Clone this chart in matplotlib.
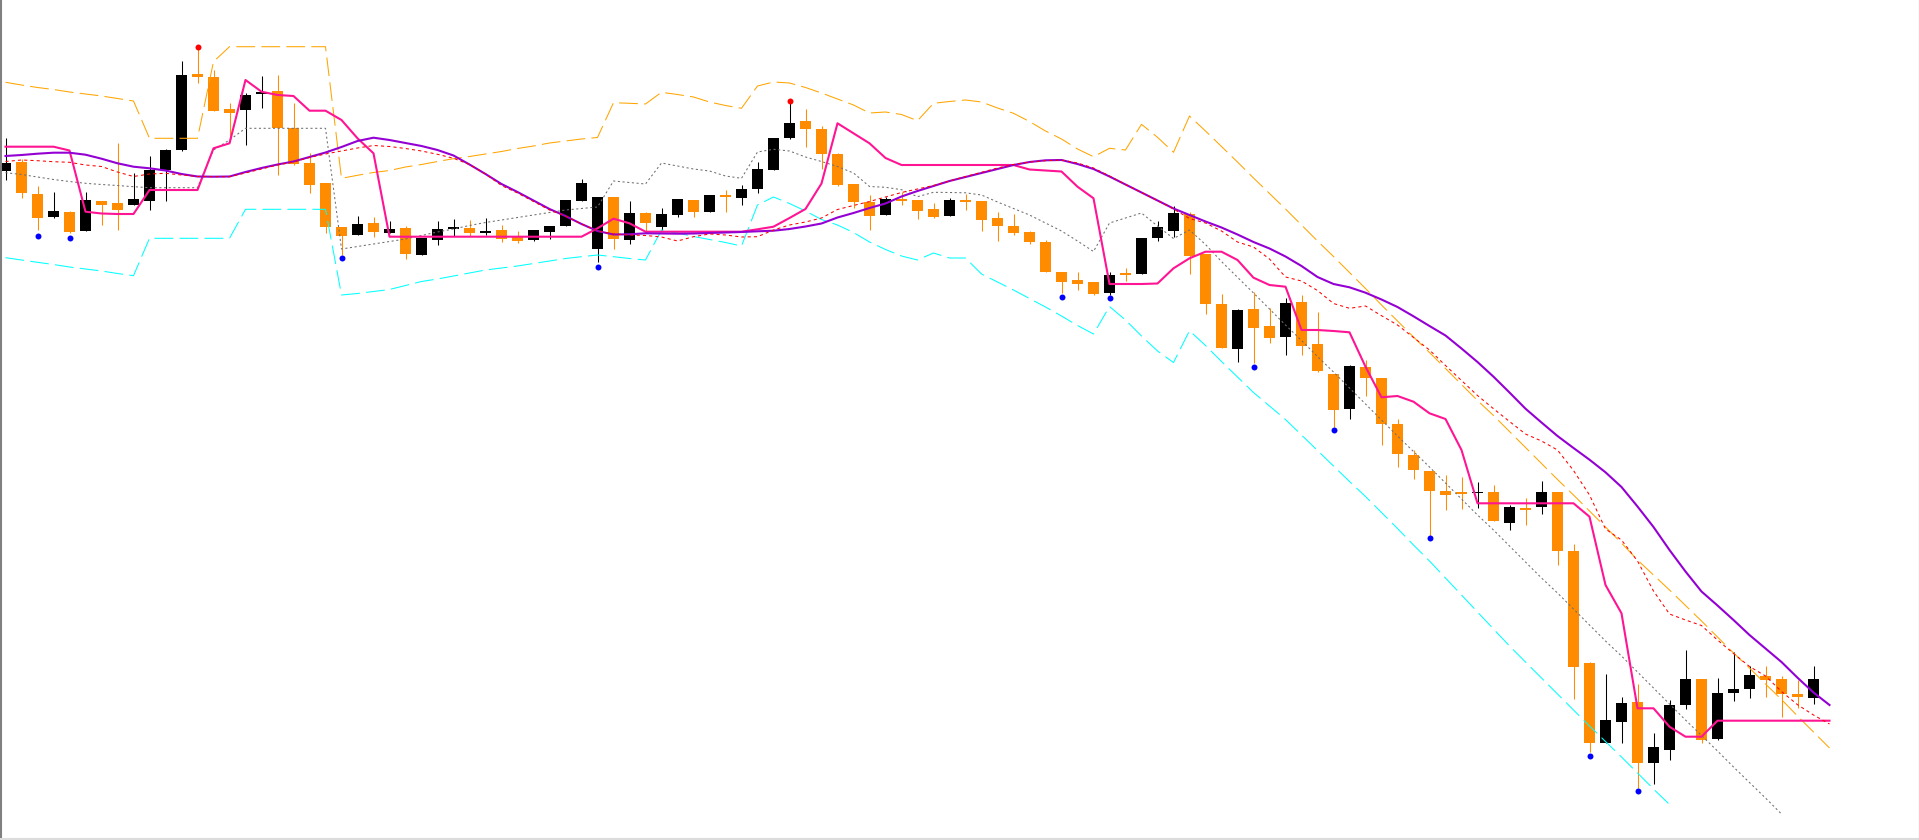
import matplotlib.pyplot as plt
from matplotlib.lines import Line2D

# price chart, bar by bar (no price axis is shown in the original)
opens = [829.3, 838, 806, 783.3, 788, 769.3, 799, 797, 795, 799,
         830, 850, 925.7, 923, 891, 890, 905.7, 909, 871.7, 836.7,
         817, 773, 765, 777.3, 767.3, 772, 745.3, 760.3, 771, 772,
         767, 770, 763.3, 760.3, 768, 774.3, 799.3, 751.3, 803, 760.3,
         787, 773.3, 785.3, 800, 788.3, 805, 802.3, 811.3, 830.3, 862,
         879, 871, 846.3, 816, 798, 785, 800.7, 800, 791, 784.3,
         800, 799, 782, 774.3, 768, 758, 728, 720, 718, 707.3,
         727.3, 726.3, 762.3, 769.3, 786, 746, 696, 651.3, 691, 674,
         663.3, 698, 656, 626, 591.3, 633, 622, 576, 545, 529,
         508.7, 507.7, 506.7, 508, 477.3, 492.3, 493.3, 508, 449, 337,
         257.3, 278.3, 298, 237.3, 250.3, 295.3, 321, 261.3, 307.3, 311.3,
         324, 321, 306, 302.3]
highs = [861.7, 840.7, 814, 808, 789, 808, 799, 857.3, 826.7, 844,
         851, 939, 951, 930, 896.7, 906.7, 924, 925, 896.7, 846.7,
         817, 773.3, 784, 783.3, 779, 774.3, 762.3, 779, 781, 780,
         782, 775.3, 769, 770, 774, 800, 821, 803, 803, 799,
         788, 792, 801, 800, 805, 810, 815, 838, 862, 896.7,
         891, 874, 847.3, 816, 805, 803, 808.3, 800, 797, 802,
         806, 799, 788, 786, 769.3, 760, 728, 728, 718, 728,
         731.7, 762, 779, 794, 788, 746, 706, 691, 708, 692,
         702, 705, 688, 626, 635.3, 640, 622, 581.3, 550.3, 529,
         525.3, 523.3, 518.3, 515.3, 495.3, 502.3, 519.3, 508, 456, 338,
         326, 303, 316, 267, 300, 350, 321, 322, 348, 334,
         334, 324, 320, 334]
lows = [820, 801.7, 770, 782.3, 767, 769.3, 775, 770, 795, 790,
        799, 849.3, 917.3, 889.3, 858.3, 855, 892.3, 825, 835, 806.7,
        767.3, 745, 765, 763.3, 767, 741, 745.3, 755.3, 764.3, 764.3,
        765, 758.3, 757, 759, 761, 774.3, 799.3, 738.3, 751.3, 756.3,
        767.3, 770, 783.3, 783.3, 788.3, 788.3, 795.3, 807.3, 830.3, 860.7,
        853.3, 831.3, 814, 791.7, 770.3, 785, 795.3, 781.3, 782.3, 784.3,
        790.3, 769.3, 759.3, 765.3, 756.3, 728.3, 706.7, 710, 705.3, 705,
        719.3, 726.3, 759.3, 763.3, 726.3, 686.3, 652.3, 638.3, 636.7, 657.3,
        645.3, 645.3, 628.3, 573.3, 581.3, 604.3, 555.3, 533.3, 521.3, 463.3,
        490.3, 491.3, 492.3, 479.3, 470.3, 475.3, 486.3, 435, 301.3, 248.3,
        257.3, 257.3, 211.7, 216.3, 240.3, 291.3, 257.3, 260.3, 299.3, 302.3,
        303.3, 283.3, 292.3, 296.3]
closes = [837.3, 807.3, 782.3, 789, 768.3, 800, 795, 790, 801, 830,
          850, 925, 923.3, 889.3, 887.3, 905, 908.3, 872.3, 835.7, 815,
          773.3, 764.3, 776, 768.3, 771, 746.3, 762.3, 771, 773, 767,
          769, 761.3, 759, 770, 774, 800, 817, 803, 761.3, 787,
          777.3, 786, 801, 788.3, 805, 803.3, 811, 831, 862, 877,
          871.3, 846.3, 815, 798.3, 784.3, 801, 799.3, 789.3, 783.3, 800,
          797.7, 780.3, 774.3, 767.3, 758.3, 728.3, 718.3, 716.3, 706.3, 725,
          725.3, 762, 773, 787.3, 744.3, 696.3, 652.3, 690, 672.3, 662.3,
          697, 654.3, 629.3, 590.3, 634.3, 622.3, 576.3, 546.3, 530.3, 509.3,
          504.7, 505.7, 507.7, 479.3, 492.7, 490.3, 508.3, 449.3, 333.3, 257.3,
          280, 297, 237.3, 253, 295, 321, 260.3, 307, 311, 325,
          320.3, 306.3, 303.3, 321]

# indicators
slow_ma = [844, 845, 846.3, 847.3, 847.3, 845.3, 841.3, 836.7, 833.3, 831.7,
           829.5, 826, 823.5, 823.3, 823.5, 828, 832, 835.5, 838.5, 843,
           847.5, 853, 859, 862.3, 860, 857, 854, 850, 844.5, 835.5,
           826, 816, 808, 799.5, 791, 784, 776, 769, 765.5, 765.7,
           766.7, 766.5, 766.3, 766.5, 767, 767.5, 768, 768.7, 769.3, 771,
           773.5, 776.5, 782.5, 787, 792, 796.5, 803.5, 809, 814, 819,
           823, 827, 831, 835, 838, 839.7, 840, 836, 831, 823.5,
           815.5, 807.5, 799.5, 791.5, 785, 778.5, 772.5, 765.5, 758, 751.5,
           743.5, 734, 723, 716, 712.7, 707.3, 700.5, 693, 683.7, 674,
           664.5, 651.5, 638, 623.3, 607.5, 591.3, 577.5, 564, 552, 540.3,
           527.7, 513, 493.5, 473, 450, 428.5, 408.5, 394.5, 380, 365,
           351.5, 338, 322.3, 307.5, 295]
fast_ma = [838.5, 840, 839.3, 838.3, 837.7, 835, 833.5, 828, 823.5, 826,
           826.7, 825, 823.5, 823.3, 823.3, 827, 831, 835, 838, 842.5,
           846, 849, 852, 854.5, 853.5, 851.5, 849, 845.7, 841.7, 835.5,
           826, 814.5, 807, 798.5, 790, 784, 776, 769, 766, 765,
           764.5, 763, 759, 763.3, 766, 765, 763, 763.3, 770, 775,
           778, 782, 790.5, 794.5, 798.5, 803, 807.5, 811, 814.5, 819,
           823.5, 827.7, 832, 835.5, 838, 839.3, 840, 837, 832, 824,
           815.5, 807.5, 799.5, 791, 781.5, 777, 769, 758, 753, 741,
           723, 719, 709.5, 696.5, 691.7, 694, 684.3, 675, 662.5, 650,
           634.5, 619.5, 604.5, 591.3, 578.5, 566, 559, 550, 529.5, 505,
           471, 460, 439, 409, 386, 380, 374.5, 360, 346.5, 333.5,
           324, 308.5, 295.3, 285, 276]
trail = [853.3, 853.3, 853.3, 853.3, 849.5, 788.3, 786.5, 786, 786, 810,
         810, 810, 810, 851.7, 856.7, 920, 908.3, 905, 904, 889.3,
         889.3, 880, 861.7, 846.7, 763.3, 763.3, 763.3, 763.3, 763.3, 763.3,
         763.3, 763.3, 763.3, 763.3, 763.3, 763.3, 763.3, 771.7, 781.3, 776.7,
         768.3, 768.3, 768.3, 768.3, 768.3, 768.3, 768.3, 770.7, 773.3, 782,
         791, 816.5, 876.7, 866.7, 856.7, 842, 835, 835, 835, 835,
         835, 835, 835, 835, 830.5, 829.5, 828.5, 813.3, 801.7, 716,
         716, 716, 716.5, 731.7, 741.7, 748.3, 748.3, 740, 722.3, 715,
         713.3, 670, 670, 669, 667.7, 633.3, 602.7, 604, 598.3, 586.7,
         581, 550, 496.7, 496.7, 496.7, 496.7, 496.7, 496.7, 496.7, 483.3,
         415, 386.7, 291.7, 291.7, 273.3, 263.3, 263.3, 279.3, 279.3, 279.3,
         279.3, 279.3, 279.3, 279.3, 279.3]
band_up = [917.7, 915, 912.5, 910.5, 908, 906, 904, 901.5, 899, 861.7,
           861.7, 861.7, 861.7, 938.3, 953.3, 953.3, 953.3, 953.3, 953.3, 953.3,
           953.3, 821.7, 824.7, 827.5, 829.5, 833, 835.5, 838.5, 841.3, 843.5,
           846, 848.5, 851.5, 854, 857, 859, 861, 862.5, 897.3, 896.7,
           896, 907.7, 905.5, 903, 898, 894.5, 891.7, 914, 918, 917,
           912.5, 907, 901, 895, 887, 888, 885.5, 879.3, 896.7, 898.5,
           900, 898, 892, 886.7, 878.5, 869, 861, 851, 843.3, 851.7,
           850, 875.7, 862.7, 847.7, 884, 869, 853.5, 838, 822, 806.5,
           791, 775, 759, 743.5, 727.5, 711.5, 695, 679, 663, 647.5,
           631.5, 615.5, 599.5, 584.5, 568.5, 552.5, 536.5, 520.5, 505, 489,
           473, 457, 440, 425, 410, 394.5, 379, 363, 347, 332,
           316, 300.5, 284, 268, 252]
band_dn = [742.3, 740, 737.7, 735.5, 733, 731, 729, 726.5, 724.3, 761.7,
           761.7, 761.7, 761.7, 761.7, 761.7, 790.7, 790.7, 790.7, 790.7, 790.7,
           790.7, 705, 706.5, 708.5, 710.5, 714.5, 718.5, 721, 724, 727,
           730, 732, 734, 736.5, 739, 741.5, 743.3, 745, 743.3, 741.5,
           740, 770, 767, 763.5, 760.5, 757.5, 754, 795, 803, 796.5,
           789, 780.5, 775, 767.5, 758, 750.5, 744, 740, 747, 742,
           742, 726, 718, 710, 701.5, 693, 684, 674.5, 666, 693.5,
           680, 664, 649, 637.5, 669.3, 654.5, 638.5, 623, 607.5, 594,
           580.5, 565, 549.5, 534, 518.5, 503.5, 487.5, 471.5, 455, 439,
           422, 405, 388, 371, 354, 338, 322, 306, 290, 274,
           258.5, 243, 227, 211, 195.5]
band_mid = [827.3, 825.5, 823, 820.5, 818.5, 816.7, 815.5, 814.5, 813.3, 812.3,
            812.3, 812.3, 812.3, 850, 860, 871.7, 871.7, 871.7, 871.7, 871.7,
            871.7, 751, 753.5, 756, 758.5, 761, 764.5, 768, 771, 774.5,
            777.5, 780, 782.5, 785, 787.5, 790, 791.5, 793, 819, 817.5,
            816, 837, 834, 831, 829, 824, 821.7, 848, 850.7, 849,
            843, 838.5, 833.5, 827, 813.5, 812.7, 810.3, 803.3, 807.7, 807.5,
            807.2, 805, 798, 791.5, 785, 777, 769, 759, 748.5, 777,
            782, 787, 774, 761.5, 770, 755.5, 738.5, 722.7, 707, 691,
            675, 659.5, 643.5, 628, 612, 596, 580, 564, 548.5, 533,
            517, 501, 485, 470, 454, 438, 422, 407, 391, 375,
            359, 344, 328, 312, 296, 280, 264.5, 249, 233, 217.5,
            202, 186]

# fractal markers
up_idx = [12, 49]
up_val = [953.3, 899.3]
dn_idx = [2, 4, 21, 37, 66, 69, 78, 83, 89, 99, 102]
dn_val = [764.3, 762, 742.3, 733.3, 703.3, 702, 633.3, 570.3, 462.3, 244.3, 209.3]

bull_color = "black"
bear_color = "#FF8C00"

fig = plt.figure(figsize=(19.19, 8.4), dpi=100)
ax = fig.add_axes([0, 0, 1, 1])
ax.set_xlim(-0.34375, 119.59375)
ax.set_ylim(160, 1000)
ax.axis("off")

# candles
n = len(opens)
x = list(range(n))
cols = [bull_color if closes[i] >= opens[i] else bear_color for i in x]
ax.vlines(x, lows, highs, colors=cols, lw=0.75, zorder=2)
bottoms = [min(opens[i], closes[i]) for i in x]
heights = [max(abs(closes[i] - opens[i]), 1.0) for i in x]
ax.bar(x, heights, bottom=bottoms, width=0.69, color=cols, linewidth=0, zorder=3)

# bands and averages
ax.plot(range(len(band_mid)), band_mid, color="#6E6E6E", lw=0.75, dashes=(2, 2.5), zorder=4)
ax.plot(range(len(band_up)), band_up, color="#FFA500", lw=0.75, dashes=(18, 6), zorder=4)
ax.plot(range(len(band_dn)), band_dn, color="#00FFFF", lw=0.75, dashes=(18, 6), zorder=4)
ax.plot(range(len(trail)), trail, color="#FF1493", lw=1.5, zorder=5)
ax.plot(range(len(slow_ma)), slow_ma, color="#9400D3", lw=1.5, zorder=5)
ax.plot(range(len(fast_ma)), fast_ma, color="#FF0000", lw=0.75, dashes=(3, 3), zorder=6)

ax.plot(up_idx, up_val, "o", color="#FF0000", ms=4.3, mew=0, zorder=7)
ax.plot(dn_idx, dn_val, "o", color="#0000FF", ms=4.3, mew=0, zorder=7)

# window frame
fig.add_artist(Line2D([1 / 1919, 1 / 1919], [0, 1], transform=fig.transFigure, color="#808080", lw=1.5))
fig.add_artist(Line2D([0, 1], [1 / 840, 1 / 840], transform=fig.transFigure, color="#DCDCDC", lw=1.5))
fig.add_artist(Line2D([1918.5 / 1919, 1918.5 / 1919], [0, 1], transform=fig.transFigure, color="#DCDCDC", lw=1))

fig.savefig("out.png", dpi=100)
